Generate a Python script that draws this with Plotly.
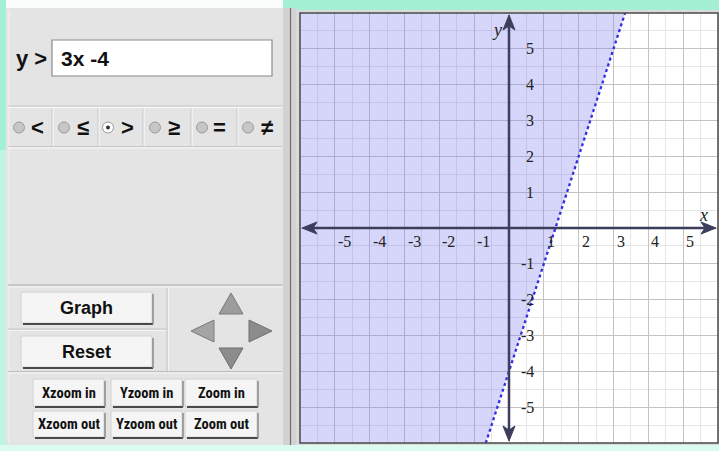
import plotly.graph_objects as go

W, H = 719, 451

# ---------------- data ----------------
slope = 3
intercept = -4
x_range = [-6, 6]
y_range = [-6, 6]
x_tick_vals = [-5, -4, -3, -2, -1, 1, 2, 3, 4, 5]
y_tick_vals = [5, 4, 3, 2, 1, -1, -2, -3, -4, -5]
relation_symbols = ["<", "≤", ">", "≥", "=", "≠"]
selected_relation = ">"
expression = "3x -4"
zoom_labels_row1 = ["Xzoom in", "Yzoom in", "Zoom in"]
zoom_labels_row2 = ["Xzoom out", "Yzoom out", "Zoom out"]

# ---------------- helpers ----------------
def px(x):
    return x / W

def py(y):
    return 1 - y / H

PLOT_L, PLOT_R, PLOT_T, PLOT_B = 300, 718, 13, 443

shapes = []
annotations = []

SANS = "Liberation Sans, Arial, sans-serif"
NARROW = "Liberation Sans Narrow, Arial Narrow, Roboto Condensed, Liberation Sans, sans-serif"

def rect(x0, y0, x1, y1, fill=None, line=None, lw=0, layer="below"):
    shapes.append(dict(type="rect", xref="paper", yref="paper",
                       x0=px(x0), x1=px(x1), y0=py(y1), y1=py(y0),
                       fillcolor=fill if fill else "rgba(0,0,0,0)",
                       line=dict(color=line if line else "rgba(0,0,0,0)", width=lw),
                       layer=layer))

def hline(x0, x1, y, color, lw=1, layer="below"):
    shapes.append(dict(type="line", xref="paper", yref="paper",
                       x0=px(x0), x1=px(x1), y0=py(y), y1=py(y),
                       line=dict(color=color, width=lw), layer=layer))

def vline(x, y0, y1, color, lw=1, layer="below"):
    shapes.append(dict(type="line", xref="paper", yref="paper",
                       x0=px(x), x1=px(x), y0=py(y0), y1=py(y1),
                       line=dict(color=color, width=lw), layer=layer))

def poly(points, fill, line, lw=1, layer="above"):
    path = "M " + " L ".join(f"{px(a)},{py(b)}" for a, b in points) + " Z"
    shapes.append(dict(type="path", xref="paper", yref="paper", path=path,
                       fillcolor=fill, line=dict(color=line, width=lw), layer=layer))

def text(x, y, s, size, color="#111", bold=True, family=SANS, xanchor="center"):
    annotations.append(dict(xref="paper", yref="paper", x=px(x), y=py(y), text=(f"<b>{s}</b>" if bold else s),
                            showarrow=False, xanchor=xanchor, yanchor="middle",
                            font=dict(size=size, color=color, family=family)))

def button(x0, y0, x1, y1, label, size, family=SANS):
    rect(x0, y0, x1, y1, fill="#f5f5f5", line="#d2d2d2", lw=1)
    hline(x0 + 2, x1 + 1, y1 + 1, "#4a4a4a", 2)
    vline(x1 + 1, y0 + 2, y1 + 1, "#8a8a8a", 1.5)
    text((x0 + x1) / 2, (y0 + y1) / 2 + 0.5, label, size, family=family)

# ---------------- background / frame ----------------
rect(0, 0, W, H, fill="#a3f0d5")
rect(6, 0, 283, 8, fill="#fbfdfd")
rect(0, 445, W, H, fill="#dcfbf0")
rect(0, 150, 6, 445, fill="#bff4e1")
rect(6, 8, 283, 445, fill="#e4e4e4")
vline(9, 10, 443, "#f2f2f2", 1)
rect(283, 8, 296, 445, fill="#d2d2d2")
vline(290.5, 8, 445, "#6e6e6e", 1.2)
rect(296, 10, W, 445, fill="#dadada")
rect(PLOT_L, PLOT_T, PLOT_R, PLOT_B, fill="#ffffff")

# ---------------- left panel ----------------
text(31, 58, "y &gt;", 22)
rect(52, 40, 272, 76, fill="#ffffff", line="#8a8a8a", lw=1.2)
text(59, 58, expression, 21, xanchor="left")

hline(8, 282, 106, "#c9c9c9", 1)
hline(8, 282, 107.5, "#f7f7f7", 1)

cell_edges = [10, 52, 98, 143, 191, 237, 283]
circle_x = [19, 64, 108, 155, 202, 248]
symbol_x = [37, 83, 127, 174, 220, 267]
for e in cell_edges[1:-1]:
    vline(e, 108, 146, "#c9c9c9", 1)
    vline(e + 1.2, 108, 146, "#f7f7f7", 1)
for cx, sx, sym in zip(circle_x, symbol_x, relation_symbols):
    sel = sym == selected_relation
    shapes.append(dict(type="circle", xref="paper", yref="paper",
                       x0=px(cx - 5.5), x1=px(cx + 5.5), y0=py(133), y1=py(122),
                       fillcolor="#ffffff" if sel else "#c6c6c6",
                       line=dict(color="#9a9a9a", width=1), layer="above"))
    if sel:
        shapes.append(dict(type="circle", xref="paper", yref="paper",
                           x0=px(cx - 2), x1=px(cx + 2), y0=py(129.5), y1=py(125.5),
                           fillcolor="#333333", line=dict(color="#333333", width=0), layer="above"))
    text(sx, 127.5, sym, 22)

hline(8, 282, 146.5, "#c9c9c9", 1)
hline(8, 282, 148, "#f7f7f7", 1)
hline(8, 282, 285, "#bdbdbd", 1.5)
hline(8, 282, 287, "#f4f4f4", 1)

# Graph / Reset buttons
hline(8, 167, 329, "#c4c4c4", 1)
hline(8, 167, 330.5, "#f4f4f4", 1)
vline(167, 288, 371, "#c4c4c4", 1)
vline(168.5, 288, 371, "#f4f4f4", 1)
button(21, 292, 152, 323, "Graph", 18)
button(21, 336, 152, 367, "Reset", 18)
hline(8, 282, 371.5, "#bdbdbd", 1.2)
hline(8, 282, 373, "#f4f4f4", 1)

# arrow pad
poly([(231, 293), (243, 314), (219, 314)], "#9c9c9c", "#7a7a7a", 1)
poly([(231, 369), (243, 348), (219, 348)], "#8c8c8c", "#6e6e6e", 1)
poly([(191, 331), (214, 320), (214, 342)], "#a4a4a4", "#7a7a7a", 1)
poly([(272, 331), (249, 320), (249, 342)], "#8c8c8c", "#6e6e6e", 1)

# zoom buttons
col_x = [(33, 104), (111, 182), (185, 257)]
for (x0, x1), lab in zip(col_x, zoom_labels_row1):
    button(x0, 379, x1, 406, lab, 14.5, family=NARROW)
for (x0, x1), lab in zip(col_x, zoom_labels_row2):
    button(x0, 411, x1, 437, lab, 14.5, family=NARROW)

# ---------------- graph ----------------
y_lo, y_hi = y_range
bx_lo = (y_lo - intercept) / slope
bx_hi = (y_hi - intercept) / slope

fig = go.Figure()
fig.add_trace(go.Scatter(
    x=[x_range[0], bx_lo, bx_hi, x_range[0]],
    y=[y_lo, y_lo, y_hi, y_hi],
    fill="toself", fillcolor="rgba(118,118,238,0.30)",
    line=dict(width=0), mode="lines", hoverinfo="skip", showlegend=False))
fig.add_trace(go.Scatter(
    x=[bx_lo, bx_hi], y=[y_lo, y_hi], mode="lines",
    line=dict(color="#2f2fe0", width=2.3, dash="dot"), showlegend=False))

# axes lines with arrowheads (data coords)
AX = "#3d3d5c"
ux = (x_range[1] - x_range[0]) / (PLOT_R - PLOT_L)   # data units per pixel
uy = (y_range[1] - y_range[0]) / (PLOT_B - PLOT_T)
shapes.append(dict(type="line", xref="x", yref="y", x0=x_range[0] + 8 * ux, x1=x_range[1] - 8 * ux,
                   y0=0, y1=0, line=dict(color=AX, width=2.5), layer="above"))
shapes.append(dict(type="line", xref="x", yref="y", x0=0, x1=0, y0=y_range[0] + 8 * uy,
                   y1=y_range[1] - 8 * uy, line=dict(color=AX, width=2.5), layer="above"))

def dpath(pts):
    return "M " + " L ".join(f"{a},{b}" for a, b in pts) + " Z"

L, R = x_range[0] + 2 * ux, x_range[1] - 2 * ux
B, T = y_range[0] + 2 * uy, y_range[1] - 2 * uy
for pts in [
    [(L, 0), (L + 15 * ux, 6 * uy), (L + 11 * ux, 0), (L + 15 * ux, -6 * uy)],
    [(R, 0), (R - 15 * ux, 6 * uy), (R - 11 * ux, 0), (R - 15 * ux, -6 * uy)],
    [(0, T), (6 * ux, T - 15 * uy), (0, T - 11 * uy), (-6 * ux, T - 15 * uy)],
    [(0, B), (6 * ux, B + 15 * uy), (0, B + 11 * uy), (-6 * ux, B + 15 * uy)],
]:
    shapes.append(dict(type="path", xref="x", yref="y", path=dpath(pts),
                       fillcolor=AX, line=dict(color=AX, width=1), layer="above"))

SERIF = "Liberation Serif, Times New Roman, serif"
for t in x_tick_vals:
    annotations.append(dict(xref="x", yref="y", x=t, y=0, text=str(t),
                            showarrow=False, xanchor="left", yanchor="middle",
                            xshift=1, yshift=-13,
                            font=dict(size=16, color="#222", family=SERIF)))
for t in y_tick_vals:
    annotations.append(dict(xref="x", yref="y", x=0, y=t, text=str(t),
                            showarrow=False, xanchor="right", yanchor="middle",
                            xshift=27, yshift=0,
                            font=dict(size=16, color="#222", family=SERIF)))
annotations.append(dict(xref="x", yref="y", x=x_range[1], y=0, text="<i>x</i>", showarrow=False,
                        xanchor="center", yanchor="middle", xshift=-15, yshift=13,
                        font=dict(size=18, color="#222", family=SERIF)))
annotations.append(dict(xref="x", yref="y", x=0, y=y_range[1], text="<i>y</i>", showarrow=False,
                        xanchor="center", yanchor="middle", xshift=-12, yshift=-17,
                        font=dict(size=18, color="#222", family=SERIF)))

# plot border
rect(PLOT_L, PLOT_T, PLOT_R, PLOT_B, line="#4a4a4a", lw=1.5, layer="above")

fig.update_layout(
    width=W, height=H, autosize=False,
    margin=dict(l=0, r=0, t=0, b=0, pad=0),
    paper_bgcolor="#a3f0d5", plot_bgcolor="rgba(0,0,0,0)",
    showlegend=False,
    xaxis=dict(domain=[px(PLOT_L), px(PLOT_R)], range=x_range, dtick=1, tick0=0,
               showgrid=True, gridcolor="#c3c3c3", gridwidth=1, zeroline=False,
               showticklabels=False, ticks="", fixedrange=True,
               minor=dict(dtick=0.5, tick0=0, showgrid=True, gridcolor="#e6e6e6", gridwidth=1)),
    yaxis=dict(domain=[py(PLOT_B), py(PLOT_T)], range=y_range, dtick=1, tick0=0,
               showgrid=True, gridcolor="#c3c3c3", gridwidth=1, zeroline=False,
               showticklabels=False, ticks="", fixedrange=True,
               minor=dict(dtick=0.5, tick0=0, showgrid=True, gridcolor="#e6e6e6", gridwidth=1)),
    shapes=shapes,
    annotations=annotations,
)

fig.write_html("out.html", config={"displayModeBar": False},
               post_script="document.body.style.margin='0';document.body.style.padding='0';document.body.style.overflow='hidden';")
